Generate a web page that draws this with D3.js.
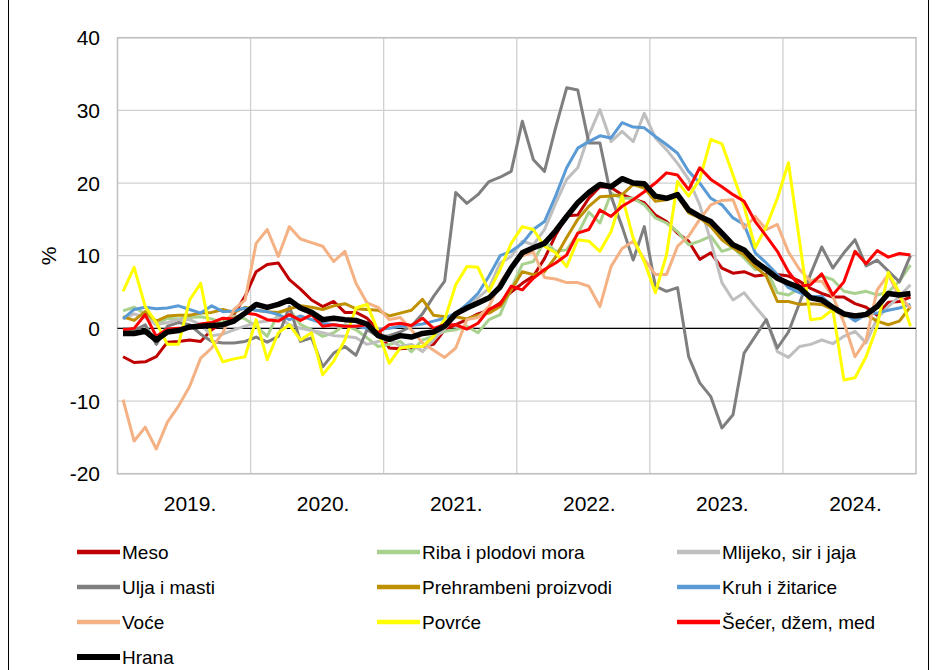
<!DOCTYPE html>
<html><head><meta charset="utf-8">
<script src="https://cdn.jsdelivr.net/npm/d3@7"></script>
<style>body{margin:0;background:#fff}svg{display:block;font-family:Arial,"Liberation Sans",sans-serif}</style>
</head><body><svg id="c" width="937" height="670"></svg>
<script>
const years = ["2019.", "2020.", "2021.", "2022.", "2023.", "2024."];
const yTicks = [-20, -10, 0, 10, 20, 30, 40];
const seriesNames = ["Meso", "Riba i plodovi mora", "Mlijeko, sir i jaja", "Ulja i masti", "Prehrambeni proizvodi", "Kruh i žitarice", "Voće", "Povrće", "Šećer, džem, med", "Hrana"];
const seriesColors = ["#C00000", "#A9D18E", "#BFBFBF", "#7F7F7F", "#BF9000", "#5B9BD5", "#F4B183", "#FFFF00", "#FF0000", "#000000"];

const meso = [-3.9,-4.7,-4.6,-3.9,-1.9,-1.8,-1.6,-1.8,-0.2,0.8,1.9,4.4,
  7.8,8.8,9.0,6.7,5.4,3.9,3.0,3.7,2.2,2.2,1.4,-0.2,
  -2.7,-2.8,-2.7,-2.5,-2.2,-0.2,0.5,1.2,2.0,2.5,3.5,5.0,
  6.2,7.2,9.6,12.8,15.5,15.6,17.9,19.5,19.4,18.4,17.8,17.3,
  15.6,14.7,13.1,12.0,9.5,10.4,8.3,7.6,7.8,7.2,7.4,7.4,
  7.2,6.5,5.5,4.8,4.3,4.3,3.4,2.9,1.8,3.6,3.7,4.3];
const riba = [2.4,2.9,2.0,0.5,1.4,1.3,1.5,1.6,1.3,0.8,1.7,1.3,
  0.3,-1.1,2.1,2.6,0.5,-0.2,-1.1,-0.6,0.5,-0.2,-1.3,-2.5,
  -2.2,-1.8,-3.2,-1.6,-1.1,-0.4,-0.2,0.3,-0.6,1.2,1.9,5.5,
  8.8,9.2,12.0,10.6,10.8,13.0,16.0,14.5,18.6,17.9,17.9,17.0,
  15.2,14.5,13.3,11.5,12.0,12.7,10.6,11.1,9.7,8.1,8.1,4.9,
  4.6,5.5,6.5,7.2,6.7,5.1,4.8,5.1,4.6,5.0,6.5,8.7];
const mlijeko = [1.3,2.0,1.5,0.5,0.8,1.2,1.2,0.5,-1.0,-0.8,-0.2,0.3,
  0.8,1.0,1.5,0.5,0.0,-0.3,-0.6,-1.0,-1.1,-1.3,-2.2,-1.8,
  -1.5,-2.5,-2.2,-3.2,-1.6,0.0,1.6,3.3,4.2,5.5,9.0,9.9,
  12.0,11.5,13.6,17.2,20.5,22.1,26.6,30.1,25.7,27.1,25.7,29.6,
  26.2,24.6,22.7,20.5,17.0,12.0,6.3,3.9,4.9,3.0,1.2,-3.2,
  -4.0,-2.5,-2.2,-1.6,-2.1,-1.1,-0.4,-2.0,1.4,3.0,4.4,6.0];
const ulja = [0.0,-0.3,0.5,-2.2,0.3,0.8,0.5,-0.8,-1.8,-2.0,-2.0,-1.8,
  -1.2,-1.9,-1.1,3.0,-1.8,-1.3,-5.3,-3.4,-2.5,-3.7,-0.2,-1.1,
  -1.0,-0.5,0.3,2.0,4.4,6.5,18.7,17.2,18.4,20.2,20.8,21.6,
  28.5,23.2,21.6,27.6,33.1,32.8,25.5,25.5,18.2,14.0,9.4,14.0,
  5.8,5.1,5.6,-3.9,-7.5,-9.4,-13.7,-11.9,-3.4,-1.1,1.2,-2.7,
  -0.5,3.5,7.5,11.2,8.3,10.4,12.2,8.6,9.4,7.9,6.4,10.0];
const prehrambeni = [1.6,1.1,2.3,1.0,1.7,1.8,1.8,2.1,2.2,2.6,2.2,2.9,
  2.5,2.3,2.2,2.7,3.1,2.9,2.6,3.1,3.4,2.7,2.6,2.5,
  1.7,2.1,2.5,4.0,1.8,1.6,1.6,1.3,1.8,2.1,3.0,5.3,
  7.8,7.4,7.8,9.8,12.5,15.0,16.8,18.1,18.2,18.4,19.8,19.3,
  17.5,17.7,18.2,15.9,15.2,14.0,12.2,11.1,10.1,8.5,7.2,3.7,
  3.7,3.3,3.4,3.3,2.6,1.7,1.9,1.9,1.0,0.5,1.0,3.0];
const kruh = [1.3,2.6,2.9,2.7,2.8,3.1,2.6,2.1,3.1,2.3,2.4,2.8,
  2.5,2.3,1.9,1.2,1.7,1.2,0.7,0.5,0.3,0.3,0.0,-0.2,
  0.0,0.3,0.4,0.6,1.0,1.4,2.1,3.3,4.8,7.2,10.0,10.6,
  11.7,13.6,14.7,18.2,22.1,24.8,25.7,26.5,26.2,28.3,27.7,27.6,
  26.4,25.3,24.1,21.6,20.0,17.9,17.0,15.2,14.3,10.4,9.0,7.4,
  5.6,4.9,4.4,4.4,3.0,2.1,1.0,1.9,2.1,2.5,2.8,3.3];
const voce = [-9.8,-15.5,-13.6,-16.6,-12.9,-10.7,-8.0,-4.1,-2.7,-0.6,2.6,3.9,
  11.7,13.6,9.9,14.0,12.3,11.8,11.3,9.2,10.6,6.2,3.5,2.9,
  1.2,1.5,-0.2,-2.0,-3.0,-4.0,-2.7,1.2,1.5,3.0,6.3,8.5,
  10.0,10.5,7.0,6.8,6.3,6.3,5.8,3.0,8.5,11.0,12.0,9.5,
  7.4,7.4,11.3,12.7,15.0,17.0,17.6,17.7,13.8,15.4,13.6,14.3,
  10.5,8.1,6.5,6.5,4.4,0.8,-3.9,-1.6,5.3,7.4,4.4,2.8];
const povrce = [5.1,8.4,3.0,0.8,-2.2,-2.2,3.9,6.2,-1.5,-4.6,-4.2,-3.9,
  1.2,-4.3,-0.6,0.5,-1.6,-0.6,-6.4,-4.5,-1.6,2.8,3.3,-0.4,
  -4.8,-2.7,-2.5,-2.5,-1.1,1.2,6.0,8.5,8.4,5.1,8.1,11.7,
  14.0,13.6,11.3,10.4,8.5,12.2,12.0,10.6,13.3,18.2,12.4,9.2,
  4.9,10.1,20.2,18.2,20.5,26.0,25.4,21.1,16.8,11.1,14.0,17.9,
  22.8,12.0,1.2,1.4,2.6,-7.1,-6.8,-3.9,0.3,7.7,4.9,0.3];
const secer = [-0.2,0.0,1.9,-1.1,-0.1,0.0,0.0,0.6,0.8,1.4,1.3,2.1,
  1.9,1.2,1.0,1.9,1.1,1.9,0.3,0.5,0.3,0.3,0.5,-0.6,
  0.5,0.7,0.4,1.4,0.0,0.5,0.5,-0.1,0.7,2.6,3.3,5.8,
  5.3,6.9,8.1,9.0,10.1,13.1,13.6,16.3,15.4,16.8,17.7,18.8,
  20.0,21.4,21.1,19.1,22.1,20.5,19.5,18.4,17.5,14.7,12.7,10.6,
  7.8,5.8,6.0,7.5,4.6,6.4,10.6,8.9,10.7,9.8,10.3,10.1];
const hrana = [-0.7,-0.7,-0.4,-1.6,-0.5,-0.3,0.2,0.3,0.4,0.5,1.0,2.1,
  3.3,2.9,3.3,3.9,2.8,2.2,1.2,1.4,1.2,1.1,0.6,-1.0,
  -1.5,-1.0,-1.2,-0.7,-0.5,0.3,2.0,2.8,3.5,4.2,5.7,8.3,
  10.4,11.1,11.7,13.4,15.4,17.3,18.7,19.8,19.5,20.6,20.0,19.9,
  18.2,17.9,18.4,16.3,15.4,14.7,13.1,11.5,10.8,9.2,8.1,6.9,
  6.2,5.6,4.2,3.9,2.9,2.0,1.7,1.9,3.0,4.8,4.6,4.8];

const seriesValues = [meso, riba, mlijeko, ulja, prehrambeni, kruh, voce, povrce, secer, hrana];
const months = years.flatMap(y => d3.range(1, 13).map(m => y + m));

const svg = d3.select("#c");
const L = 117.5, R = 916, T = 37.7, B = 473.7;
const x = d3.scalePoint().domain(months).range([L, R]).padding(0.5);
const step = x.step();
const y = d3.scaleLinear().domain([-20, 40]).range([B, T]);

// outer frame
svg.append("line").attr("x1", 8.5).attr("x2", 8.5).attr("y1", 0).attr("y2", 670).attr("stroke", "#000").attr("stroke-width", 1);
svg.append("line").attr("x1", 928.5).attr("x2", 928.5).attr("y1", 0).attr("y2", 670).attr("stroke", "#000").attr("stroke-width", 1);

// gridlines
svg.append("g").selectAll("line").data(yTicks).join("line")
  .attr("x1", L).attr("x2", R).attr("y1", d => y(d)).attr("y2", d => y(d))
  .attr("stroke", "#D0D0D0").attr("stroke-width", 1.3);
svg.append("g").selectAll("line").data(d3.range(1, years.length)).join("line")
  .attr("x1", d => L + d * 12 * step).attr("x2", d => L + d * 12 * step)
  .attr("y1", T).attr("y2", B).attr("stroke", "#D0D0D0").attr("stroke-width", 1.3);
svg.append("rect").attr("x", L).attr("y", T).attr("width", R - L).attr("height", B - T)
  .attr("fill", "none").attr("stroke", "#BFBFBF").attr("stroke-width", 1.5);
svg.append("line").attr("x1", L).attr("x2", R).attr("y1", y(0)).attr("y2", y(0)).attr("stroke", "#000").attr("stroke-width", 1.2);

// y labels
svg.append("g").selectAll("text").data(yTicks).join("text")
  .attr("x", 100).attr("y", d => y(d)).attr("dy", "0.36em").attr("text-anchor", "end")
  .attr("font-size", 21).attr("fill", "#000").text(d => d);
svg.append("text").attr("transform", "translate(56,256) rotate(-90)").attr("text-anchor", "middle")
  .attr("font-size", 21).text("%");

// x labels
svg.append("g").selectAll("text").data(years).join("text")
  .attr("x", (d, i) => L + (i + 0.5) * 12 * step + 6).attr("y", 511).attr("text-anchor", "middle")
  .attr("font-size", 21).text(d => d);

// lines
const line = d3.line().x((d, i) => x(months[i])).y(d => y(d));
seriesValues.forEach((vals, k) => {
  svg.append("path").datum(vals).attr("d", line).attr("fill", "none")
    .attr("stroke", seriesColors[k]).attr("stroke-width", k === 9 ? 5.5 : 3)
    .attr("stroke-linejoin", "round");
});

// legend
const cols = [77, 377, 677];
const rows = [552, 587, 622, 657];
seriesNames.forEach((n, k) => {
  const cx = cols[k % 3], cy = rows[Math.floor(k / 3)];
  svg.append("line").attr("x1", cx).attr("x2", cx + 43).attr("y1", cy).attr("y2", cy)
    .attr("stroke", seriesColors[k]).attr("stroke-width", k === 9 ? 6 : 4.5);
  svg.append("text").attr("x", cx + 45).attr("y", cy).attr("dy", "0.36em")
    .attr("font-size", 19).text(n);
});
</script></body></html>
